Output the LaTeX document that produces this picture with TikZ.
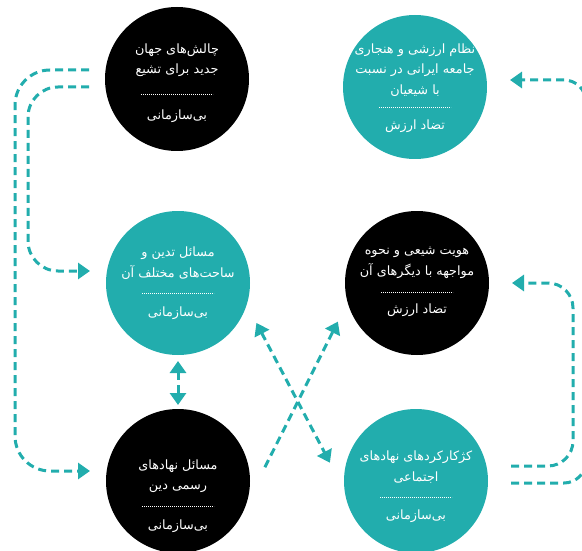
\documentclass[tikz,border=0pt]{standalone}
\usepackage{fontspec}
\newfontfamily\arabicfont[Script=Arabic]{DejaVu Sans}
\usetikzlibrary{arrows.meta}
\TeXXeTstate=1
\definecolor{tealc}{HTML}{22ADAD}
\newcommand{\fa}[1]{\beginR #1\endR}

\begin{document}
\begin{tikzpicture}[x=1pt, y=-1pt,
    disc/.style={circle, minimum size=144pt, inner sep=0pt, outer sep=16pt},
    ctitle/.style={text=white, align=center, inner sep=0pt, font=\arabicfont\fontsize{12.8}{20.5}\selectfont},
    clabel/.style={text=white, inner sep=0pt, font=\arabicfont\fontsize{12.8}{14}\selectfont},
    dotsep/.style={white, line width=0.5pt, dash pattern=on 0.6pt off 1.4pt},
    link/.style={tealc, line width=3pt, dash pattern=on 8pt off 5pt},
    onearrow/.style={-{Triangle[width=16pt,length=12pt]}},
    twoarrow/.style={{Triangle[width=16pt,length=12pt]}-{Triangle[width=16pt,length=12pt]}}]

  \useasboundingbox (0,0) rectangle (582,551);
  \clip (0,0) rectangle (582,551);

  % Circles
  \node[disc, fill=black] (A) at (177,79) {};
  \node[disc, fill=tealc] (B) at (415,87) {};
  \node[disc, fill=tealc] (C) at (178,283) {};
  \node[disc, fill=black] (D) at (417,283) {};
  \node[disc, fill=black] (E) at (178,481) {};
  \node[disc, fill=tealc] (F) at (416,481) {};

  % Texts in the circles
  \node[ctitle] (A1) at ([yshift=19pt]A.center) {\fa{چالش‌های جهان}\\\fa{جدید برای تشیع}};
  \draw[dotsep] ([shift={(-36pt,-15pt)}]A.center) -- ++(72,0);
  \node[clabel] (A2) at ([yshift=-37pt]A.center) {\fa{بی‌سازمانی}};

  \node[ctitle] (B1) at ([yshift=17pt]B.center) {\fa{نظام ارزشی و هنجاری}\\\fa{جامعه ایرانی در نسبت}\\\fa{با شیعیان}};
  \draw[dotsep] ([shift={(-36pt,-20pt)}]B.center) -- ++(72,0);
  \node[clabel] (B2) at ([yshift=-39pt]B.center) {\fa{تضاد ارزش}};

  \node[ctitle] (C1) at ([yshift=20pt]C.center) {\fa{مسائل تدین و}\\\fa{ساحت‌های مختلف آن}};
  \draw[dotsep] ([shift={(-36pt,-10pt)}]C.center) -- ++(72,0);
  \node[clabel] (C2) at ([yshift=-30pt]C.center) {\fa{بی‌سازمانی}};

  \node[ctitle] (D1) at ([yshift=20pt]D.center) {\fa{هویت شیعی و نحوه}\\\fa{مواجهه با دیگرهای آن}};
  \draw[dotsep] ([shift={(-36pt,-9pt)}]D.center) -- ++(72,0);
  \node[clabel] (D2) at ([yshift=-27pt]D.center) {\fa{تضاد ارزش}};

  \node[ctitle] (E1) at ([yshift=5pt]E.center) {\fa{مسائل نهادهای}\\\fa{رسمی دین}};
  \draw[dotsep] ([shift={(-36pt,-25pt)}]E.center) -- ++(72,0);
  \node[clabel] (E2) at ([yshift=-45pt]E.center) {\fa{بی‌سازمانی}};

  \node[ctitle] (F1) at ([yshift=14pt]F.center) {\fa{کژکارکردهای نهادهای}\\\fa{اجتماعی}};
  \draw[dotsep] ([shift={(-36pt,-16pt)}]F.center) -- ++(72,0);
  \node[clabel] (F2) at ([yshift=-35pt]F.center) {\fa{بی‌سازمانی}};

  % Left loops
  \draw[link, onearrow, rounded corners=35pt] ([yshift=9pt]A.west) -- ++(-74,0) |- ([yshift=10pt]E.west);
  \draw[link, onearrow, rounded corners=30pt] ([yshift=-8pt]A.west) -- ++(-61,0) |- ([yshift=12pt]C.west);

  % Right loops
  \draw[link, onearrow, rounded corners=25pt] ([shift={(7pt,15pt)}]F.east) -- ++(62,0) |- ([xshift=7pt]D.east);
  \draw[link, onearrow, rounded corners=22pt] ([shift={(7pt,-2pt)}]F.east) -- ++(75,0) |- ([shift={(7pt,7pt)}]B.east);

  % Crossing links
  \draw[link, twoarrow] (C.-27) -- (F.168);
  \draw[link, onearrow] (E.9) -- (D.206);

  % Between the two left circles
  \draw[link, twoarrow, shorten <=-10pt, shorten >=-12pt] (C.south) -- (E.north);

\end{tikzpicture}
\end{document}
